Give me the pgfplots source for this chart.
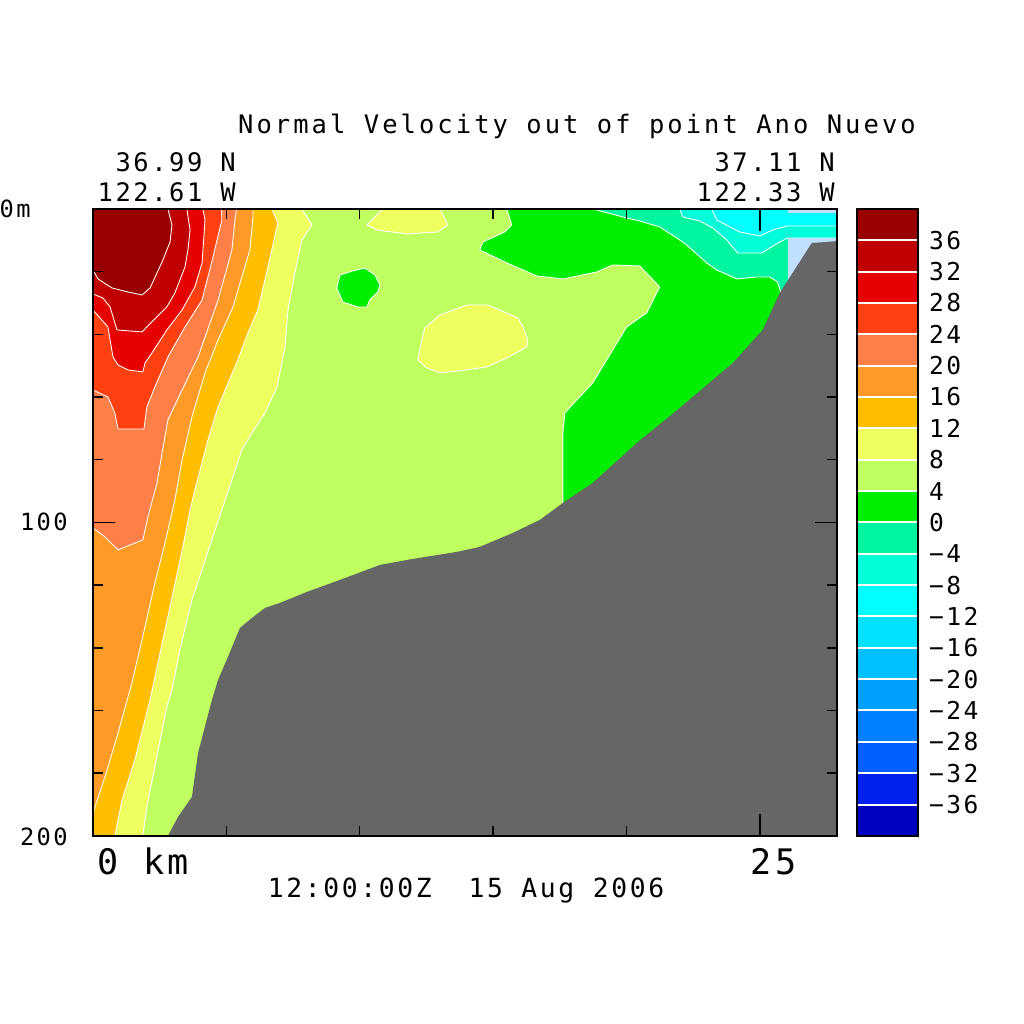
\documentclass[border=0pt]{standalone}
\usepackage{pgfplots}
\pgfplotsset{compat=1.18}
\usepackage{fontspec}
\newfontfamily\ferret[LetterSpace=10]{DejaVu Sans Mono}
\newfontfamily\ferrett[LetterSpace=12]{DejaVu Sans Mono}
\definecolor{v36}{HTML}{990000}
\definecolor{v32}{HTML}{C00000}
\definecolor{v28}{HTML}{E60000}
\definecolor{v24}{HTML}{FF4010}
\definecolor{v20}{HTML}{FF7F48}
\definecolor{v16}{HTML}{FF9A26}
\definecolor{v12}{HTML}{FFBF00}
\definecolor{v8}{HTML}{F0FF60}
\definecolor{v4}{HTML}{C0FF60}
\definecolor{v0}{HTML}{00EE00}
\definecolor{m4}{HTML}{00F5A0}
\definecolor{m8}{HTML}{00FFD8}
\definecolor{m12}{HTML}{00FFFF}
\definecolor{m16}{HTML}{00E0FF}
\definecolor{m20}{HTML}{00C0FF}
\definecolor{m24}{HTML}{00A0FF}
\definecolor{m28}{HTML}{0080FF}
\definecolor{m32}{HTML}{0060FF}
\definecolor{m36}{HTML}{0020F0}
\definecolor{m40}{HTML}{0000C0}
\definecolor{lblue}{HTML}{C0E0FF}
\definecolor{land}{HTML}{666666}
\begin{document}
\begin{tikzpicture}[x=0.02cm,y=-0.02cm]
\path[use as bounding box] (0,0) rectangle (1024,1024);
\begin{axis}[at={(1.86cm,-16.72cm)}, anchor=south west, scale only axis,
  width=14.88cm, height=12.54cm,
  xmin=0, xmax=27.89, ymin=0, ymax=200, y dir=reverse,
  axis on top, axis line style={line width=0.04cm},
  xtick={0,25}, ytick={0,100,200},
  minor xtick={5,10,15,20}, minor ytick={20,40,60,80,120,140,160,180},
  xticklabels={}, yticklabels={},
  major tick length=0.44cm, minor tick length=0.2cm,
  tick style={black, line width=0.03cm}, minor tick style={black, line width=0.03cm},
  axis background/.style={fill=v4}]
\pgfplotsset{every axis plot/.append style={draw=white, line width=0.5pt, line join=round}}
% 8-12
\addplot[fill=v8] coordinates {(0,0) (7.83,0) (8.21,5.10) (7.83,9.89) (7.57,20.41) (7.31,32.22) (7.20,44.02) (6.90,56.78) (6.45,65.07) (5.96,71.45) (5.58,76.87) (5.21,86.44) (4.83,96.01) (4.39,107.18) (4.09,115.15) (3.71,124.72) (3.26,140.67) (2.96,153.43) (2.77,158.85) (2.32,177.99) (2.02,190.75) (1.87,200) (0,200)};
% 12-16
\addplot[fill=v12] coordinates {(0,0) (6.71,0) (6.93,4.47) (6.56,18.50) (6.18,32.22) (5.81,39.55) (5.43,48.17) (4.69,63.16) (4.31,73.68) (3.82,89.63) (3.64,96.01) (3.37,107.82) (3.00,122.49) (2.62,137.48) (2.14,156.62) (1.57,175.76) (1.09,188.52) (0.82,200) (0,200)};
% 16-20
\addplot[fill=v16] coordinates {(0,0) (6.00,0) (6.00,2.55) (5.88,13.08) (5.25,31.26) (4.69,41.79) (4.20,52.31) (3.71,66.35) (3.34,80.06) (3.07,92.82) (2.70,106.54) (2.32,119.30) (1.95,133.33) (1.46,151.20) (0.94,167.15) (0.45,181.18) (0,192.67)};
% 20-24
\addplot[fill=v20] coordinates {(0,0) (5.38,0) (5.32,3.51) (5.21,13.08) (4.69,29.03) (3.94,47.21) (3.34,57.74) (2.81,67.31) (2.59,77.83) (2.40,87.40) (2.06,98.25) (1.87,105.58) (0.94,108.77) (0.45,104.63) (0,101.76)};
% 24-28
\addplot[fill=v24] coordinates {(0,0) (4.82,0) (4.83,3.51) (4.50,15.31) (4.09,29.03) (3.45,37.64) (2.81,47.21) (2.32,56.78) (2.02,63.16) (1.91,70.18) (0.94,70.18) (0.82,65.07) (0.56,59.97) (0,57.74)};
% 28-32
\addplot[fill=v28] coordinates {(0,0) (4.12,0) (4.20,3.51) (4.09,17.22) (3.82,24.88) (3.34,32.22) (2.77,38.60) (2.21,45.93) (1.95,49.12) (1.87,51.99) (1.31,51.35) (0.94,49.76) (0.75,47.21) (0.56,37.64) (0,32.22)};
% 32-36
\addplot[fill=v32] coordinates {(0,0) (3.52,0) (3.64,6.70) (3.56,13.08) (3.45,18.50) (3.07,26.79) (2.77,31.26) (2.02,37.64) (1.84,39.23) (0.90,38.60) (0.64,31.26) (0.37,28.39) (0,27.11)};
% 36-40
\addplot[fill=v36] coordinates {(0,0) (2.81,0) (2.96,5.10) (2.89,10.53) (2.59,16.91) (2.14,25.20) (1.84,27.43) (1.31,26.48) (0.71,25.20) (0.19,22.33) (0,19.46)};
% islands 8-12
\addplot[fill=v8] coordinates {(10.87,0) (10.27,5.10) (10.64,6.70) (11.77,7.97) (12.93,7.34) (13.31,5.10) (13.01,0)};
\addplot[fill=v8] coordinates {(14.02,30.62) (14.80,30.62) (15.93,34.77) (16.12,37.64) (16.30,41.79) (16.27,44.02) (15.52,47.53) (14.77,50.40) (14.02,51.35) (13.01,52.31) (12.52,50.72) (12.18,48.17) (12.33,41.79) (12.44,37.96) (13.01,33.81) (14.02,30.62)};
% island 0-4
\addplot[fill=v0] coordinates {(10.19,18.82) (10.57,21.05) (10.76,24.24) (10.68,26.48) (10.38,29.03) (10.27,31.26) (9.93,31.26) (9.37,29.67) (9.14,25.20) (9.26,21.05) (9.74,19.78) (10.19,18.82)};
% 0-4 right
\addplot[fill=v0] coordinates {(15.52,0) (15.70,5.10) (15.44,7.34) (14.62,10.53) (14.50,13.08) (15.52,17.22) (16.64,21.37) (17.62,22.33) (18.89,20.10) (19.49,17.86) (20.50,18.18) (21.25,24.88) (20.76,33.17) (20.01,37.64) (19.26,48.17) (18.74,55.50) (18.14,60.93) (17.69,65.07) (17.62,71.45) (17.62,93.78) (17.62,99.20) (27.89,99.20) (27.89,0)};
% -4-0
\addplot[fill=m4] coordinates {(18.74,0) (20.01,2.87) (20.50,3.83) (21.25,5.74) (22.00,9.89) (22.26,11.48) (23.01,17.22) (23.39,19.46) (24.14,22.33) (24.89,21.69) (25.37,21.69) (25.67,23.29) (25.82,27.43) (26.12,29.03) (27.89,29.03) (27.89,0)};
% -8--4
\addplot[fill=m8] coordinates {(22.00,0) (22.11,2.55) (22.75,3.83) (23.24,6.06) (23.76,9.89) (24.17,14.04) (25.07,14.04) (25.75,10.53) (26.05,9.25) (27.89,9.25) (27.89,0)};
% -12--8
\addplot[fill=m12] coordinates {(23.20,0) (23.39,3.51) (24.25,7.34) (25.00,8.61) (25.49,6.70) (26.01,5.42) (27.89,5.42) (27.89,0)};
% undefined
\addplot[fill=lblue, draw=none] coordinates {(26.05,0) (27.89,0) (27.89,1.28) (26.05,1.28)};
\addplot[fill=lblue, draw=none] coordinates {(26.05,9.25) (27.89,9.25) (27.89,29.03) (26.05,29.03)};
% bottom
\addplot[fill=land, draw=none] coordinates {(2.81,200) (3.19,193.94) (3.71,187.56) (3.94,173.53) (4.46,156.62) (4.69,150.24) (5.06,142.90) (5.51,133.65) (5.96,130.46) (6.45,127.27) (7.01,125.68) (8.02,122.17) (9.26,118.34) (10.76,113.56) (11.99,111.64) (13.64,109.41) (14.50,107.82) (15.74,103.35) (16.75,99.20) (17.62,93.78) (18.74,87.40) (20.39,74.64) (22.00,63.48) (23.99,49.12) (25.11,38.60) (25.75,26.79) (26.95,10.85) (27.51,10.53) (27.89,10.21) (27.89,200)};
\end{axis}
\begin{axis}[at={(17.14cm,-16.72cm)}, anchor=south west, scale only axis,
  width=1.22cm, height=12.54cm,
  xmin=0, xmax=1, ymin=-40, ymax=40,
  axis on top, axis line style={line width=0.04cm},
  xtick=\empty, ytick={-36,-32,...,36},
  yticklabels={−36,−32,−28,−24,−20,−16,−12,−8,−4,0,4,8,12,16,20,24,28,32,36},
  yticklabel pos=right, major tick length=1.22cm,
  tick style={white, line width=0.04cm},
  yticklabel style={anchor=west, xshift=0.1cm, font={\ferret\fontsize{14}{16}\selectfont}}]
\pgfplotsset{every axis plot/.append style={draw=none}}
\addplot[fill=m40] coordinates {(0,-40) (1,-40) (1,-36) (0,-36)};
\addplot[fill=m36] coordinates {(0,-36) (1,-36) (1,-32) (0,-32)};
\addplot[fill=m32] coordinates {(0,-32) (1,-32) (1,-28) (0,-28)};
\addplot[fill=m28] coordinates {(0,-28) (1,-28) (1,-24) (0,-24)};
\addplot[fill=m24] coordinates {(0,-24) (1,-24) (1,-20) (0,-20)};
\addplot[fill=m20] coordinates {(0,-20) (1,-20) (1,-16) (0,-16)};
\addplot[fill=m16] coordinates {(0,-16) (1,-16) (1,-12) (0,-12)};
\addplot[fill=m12] coordinates {(0,-12) (1,-12) (1,-8) (0,-8)};
\addplot[fill=m8] coordinates {(0,-8) (1,-8) (1,-4) (0,-4)};
\addplot[fill=m4] coordinates {(0,-4) (1,-4) (1,0) (0,0)};
\addplot[fill=v0] coordinates {(0,0) (1,0) (1,4) (0,4)};
\addplot[fill=v4] coordinates {(0,4) (1,4) (1,8) (0,8)};
\addplot[fill=v8] coordinates {(0,8) (1,8) (1,12) (0,12)};
\addplot[fill=v12] coordinates {(0,12) (1,12) (1,16) (0,16)};
\addplot[fill=v16] coordinates {(0,16) (1,16) (1,20) (0,20)};
\addplot[fill=v20] coordinates {(0,20) (1,20) (1,24) (0,24)};
\addplot[fill=v24] coordinates {(0,24) (1,24) (1,28) (0,28)};
\addplot[fill=v28] coordinates {(0,28) (1,28) (1,32) (0,32)};
\addplot[fill=v32] coordinates {(0,32) (1,32) (1,36) (0,36)};
\addplot[fill=v36] coordinates {(0,36) (1,36) (1,40) (0,40)};
\end{axis}
\begin{scope}[every node/.style={inner sep=0pt}]
\node[anchor=base, font={\ferrett\fontsize{14.5}{17}\selectfont}] at (577,133) {Normal Velocity out of point Ano Nuevo};
\node[anchor=base east, font={\ferret\fontsize{14.5}{17}\selectfont}] at (236,172) {36.99 N};
\node[anchor=base east, font={\ferret\fontsize{14.5}{17}\selectfont}] at (236,201) {122.61 W};
\node[anchor=base east, font={\ferret\fontsize{14.5}{17}\selectfont}] at (835,172) {37.11 N};
\node[anchor=base east, font={\ferret\fontsize{14.5}{17}\selectfont}] at (835,201) {122.33 W};
\node[anchor=base east, font={\ferret\fontsize{13.5}{15}\selectfont}] at (31,217) {0m};
\node[anchor=base east, font={\ferret\fontsize{13.5}{15}\selectfont}] at (68,530) {100};
\node[anchor=base east, font={\ferret\fontsize{13.5}{15}\selectfont}] at (68,845) {200};
\node[anchor=base west, font={\ferret\fontsize{20}{24}\selectfont}] at (97,874) {0 km};
\node[anchor=base west, font={\ferret\fontsize{20}{24}\selectfont}] at (750,874) {25};
\node[anchor=base, font={\ferret\fontsize{15}{18}\selectfont}] at (466,897) {12:00:00Z\ \ 15 Aug 2006};
\end{scope}
\end{tikzpicture}
\end{document}
